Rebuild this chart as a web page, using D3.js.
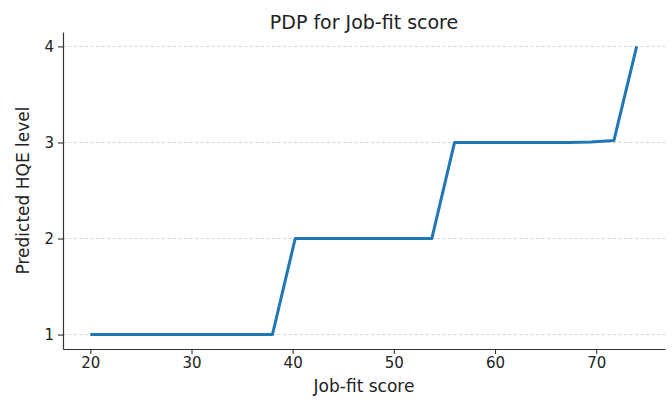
<!DOCTYPE html>
<html>
<head>
<meta charset="utf-8">
<script src="https://cdn.jsdelivr.net/npm/d3@7"></script>
<style>
  body { margin: 0; background: #fff; }
  svg text { font-family: "DejaVu Sans", sans-serif; fill: #222; }
</style>
</head>
<body>
<div id="chart"></div>
<script>
// PDP grid values
var jobFit = [20, 22.25, 24.5, 26.75, 29, 31.25, 33.5, 35.75, 38, 40.25, 42.5, 44.75, 47,
              49.25, 51.5, 53.75, 56, 58.25, 60.5, 62.75, 65, 67.25, 69.5, 71.75, 74];
var hqe = [1, 1, 1, 1, 1, 1, 1, 1, 1, 2, 2, 2, 2,
           2, 2, 2, 3, 3, 3, 3, 3, 3, 3.005, 3.02, 4];
var xTicks = [20, 30, 40, 50, 60, 70];
var yTicks = [1, 2, 3, 4];

var width = 672, height = 401;
var margin = { top: 32, right: 7, bottom: 52, left: 63 };
var plotW = width - margin.left - margin.right;
var plotH = height - margin.top - margin.bottom;

var data = jobFit.map(function(d, i) { return { x: d, y: hqe[i] }; });

var x = d3.scaleLinear().domain([17.3, 76.8]).range([0, plotW]);
var y = d3.scaleLinear().domain([0.85, 4.15]).range([plotH, 0]);

var svg = d3.select("#chart").append("svg")
  .attr("width", width)
  .attr("height", height);

var g = svg.append("g")
  .attr("transform", "translate(" + margin.left + "," + margin.top + ")");

// horizontal dashed grid
g.selectAll(".grid")
  .data(yTicks)
  .enter()
  .append("line")
  .attr("class", "grid")
  .attr("x1", 0)
  .attr("x2", plotW)
  .attr("y1", function(d) { return y(d); })
  .attr("y2", function(d) { return y(d); })
  .attr("stroke", "#c8c8c8")
  .attr("stroke-width", 0.8)
  .attr("stroke-dasharray", "3,2.5");

var xAxis = d3.axisBottom(x).tickValues(xTicks).tickSize(5).tickSizeOuter(0)
  .tickPadding(3).tickFormat(d3.format("d"));
var yAxis = d3.axisLeft(y).tickValues(yTicks).tickSize(5).tickSizeOuter(0)
  .tickPadding(4).tickFormat(d3.format("d"));

var gx = g.append("g")
  .attr("class", "x axis")
  .attr("transform", "translate(0," + plotH + ")")
  .call(xAxis);
var gy = g.append("g")
  .attr("class", "y axis")
  .call(yAxis);

[gx, gy].forEach(function(a) {
  a.select(".domain").attr("stroke", "#333").attr("stroke-width", 1.2);
  a.selectAll(".tick line").attr("stroke", "#333").attr("stroke-width", 1.1);
  a.selectAll(".tick text").style("font-size", "15px").style("fill", "#222");
});

var line = d3.line()
  .x(function(d) { return x(d.x); })
  .y(function(d) { return y(d.y); });

g.append("path")
  .datum(data)
  .attr("d", line)
  .attr("fill", "none")
  .attr("stroke", "#1f77b4")
  .attr("stroke-width", 3)
  .attr("stroke-linejoin", "round");

svg.append("text")
  .attr("x", margin.left + plotW / 2)
  .attr("y", 29)
  .attr("text-anchor", "middle")
  .style("font-size", "19px")
  .text("PDP for Job-fit score");

svg.append("text")
  .attr("x", margin.left + plotW / 2)
  .attr("y", 392)
  .attr("text-anchor", "middle")
  .style("font-size", "17px")
  .text("Job-fit score");

svg.append("text")
  .attr("transform", "translate(29," + (margin.top + plotH / 2) + ") rotate(-90)")
  .attr("text-anchor", "middle")
  .style("font-size", "17px")
  .text("Predicted HQE level");
</script>
</body>
</html>
